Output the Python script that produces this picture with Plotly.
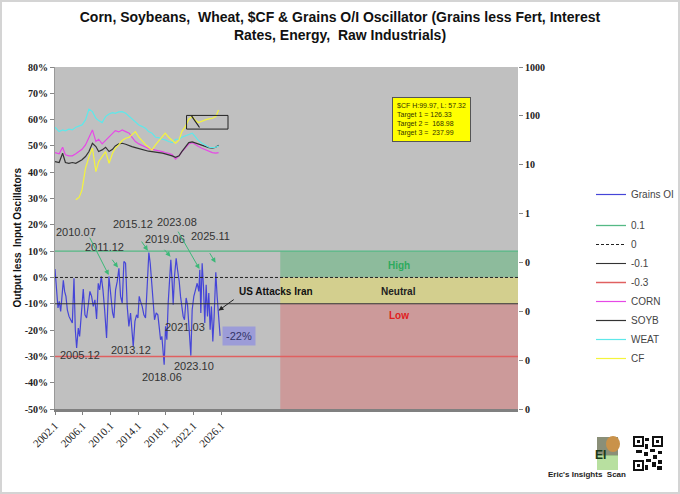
import plotly.graph_objects as go

# ---------------- data ----------------
osc_years = [2002.00, 2002.24, 2002.43, 2002.62, 2002.82, 2003.01, 2003.20, 2003.39, 2003.58, 2003.78,
             2004.02, 2004.26, 2004.50, 2004.74, 2004.93, 2005.12, 2005.36, 2005.55, 2005.79, 2006.08,
             2006.32, 2006.56, 2006.80, 2007.04, 2007.28, 2007.52, 2007.76, 2008.00, 2008.24, 2008.44,
             2008.68, 2008.92, 2009.16, 2009.44, 2009.78, 2010.02, 2010.31, 2010.50, 2010.74, 2010.98,
             2011.22, 2011.46, 2011.70, 2011.94, 2012.18, 2012.42, 2012.66, 2012.90, 2013.14, 2013.29,
             2013.53, 2013.77, 2013.96, 2014.15, 2014.34, 2014.58, 2014.82, 2015.06, 2015.30, 2015.54,
             2015.74, 2015.93, 2016.17, 2016.36, 2016.60, 2016.84, 2017.08, 2017.23, 2017.42, 2017.56,
             2017.75, 2017.95, 2018.14, 2018.33, 2018.52, 2018.71, 2018.91, 2019.05, 2019.24, 2019.48,
             2019.68, 2019.92, 2020.11, 2020.30, 2020.49, 2020.68, 2020.92, 2021.12, 2021.36, 2021.60,
             2021.79, 2022.03, 2022.27, 2022.51, 2022.75, 2022.89, 2023.04, 2023.23, 2023.42, 2023.61,
             2023.81, 2024.00, 2024.19, 2024.38, 2024.57, 2024.77, 2024.96, 2025.20, 2025.39, 2025.58,
             2025.73, 2025.82]
osc_vals = [3.2, -7.2, -11.6, -9.1, -12.9, -7.2, -1.1, -5.3, -7.2, -12.3,
            -14.8, -16.1, -17.3, -0.3, -19.9, -26.8, -19.2, -22.4, -13.5, -4.4,
            -14.2, -15.4, -10.4, -5.3, -7.2, -11.0, -8.5, -15.8, -2.2, -4.7,
            0.4, -4.7, -12.3, -23.0, 0.4, -7.2, -13.5, -15.4, -4.7, -1.5,
            3.5, -7.2, -9.7, 6.1, 5.4, -11.0, -18.6, -13.5, -21.1, -26.2,
            -16.7, -14.2, -15.4, -7.2, -9.1, -11.0, -14.2, -15.4, -3.4, 9.5,
            5.4, -1.5, -9.1, -16.1, -13.5, -14.2, -19.9, -23.7, -22.4, -26.2,
            -33.2, -18.6, -23.7, -9.7, 0.4, 6.7, -2.2, -10.4, 0.4, 7.3,
            2.9, -1.5, -7.2, -11.0, -14.8, -16.1, -7.8, -10.4, -21.1, -29.7,
            -12.3, -7.2, -4.7, -2.2, -5.3, 2.9, -13.5, 5.4, -3.4, -17.3,
            -2.8, -14.8, -5.9, -19.9, -11.0, -24.3, -14.8, 2.0, -7.2, -13.5,
            -20.5, -22.2]

top_years = [2002.0, 2002.6, 2003.1, 2003.5, 2004.0, 2004.5, 2005.0, 2005.5, 2005.9, 2006.4,
             2006.9, 2007.4, 2007.9, 2008.3, 2008.8, 2009.3, 2009.8, 2010.3, 2010.7, 2011.2,
             2011.7, 2012.2, 2012.7, 2013.1, 2013.6, 2014.1, 2014.6, 2015.1, 2015.5, 2016.0,
             2016.5, 2017.0, 2017.5, 2017.9, 2018.4, 2018.9, 2019.4, 2019.9, 2020.3, 2020.8,
             2021.3, 2021.8, 2022.3, 2022.7, 2023.2, 2023.7, 2024.2, 2024.7, 2025.2, 2025.6]
corn = [17.7, 16.7, 22.8, 15.9, 15.2, 15.2, 16.7, 18.6, 20.7, 25.4,
        34.8, 51.5, 29.8, 33.2, 26.7, 31.2, 36.5, 44.1, 49.9, 46.9,
        51.5, 47.6, 44.1, 36.5, 29.8, 26.7, 24.3, 22.8, 21.4, 20.7,
        20.1, 19.5, 18.6, 17.7, 17.2, 16.1, 13.0, 15.2, 18.6, 21.8,
        26.7, 28.4, 25.4, 23.5, 21.8, 20.1, 18.6, 17.7, 17.2, 17.7]
soyb = [11.6, 11.1, 17.2, 11.1, 10.7, 11.1, 10.7, 11.6, 12.6, 14.7,
        18.6, 27.5, 23.5, 18.6, 20.1, 22.8, 18.6, 20.7, 24.3, 26.7,
        27.5, 26.3, 24.3, 23.5, 22.4, 21.4, 20.1, 19.5, 18.9, 18.6,
        18.3, 18.0, 17.2, 16.7, 16.1, 15.2, 14.2, 15.2, 18.6, 22.8,
        28.4, 29.3, 27.5, 26.7, 25.0, 23.5, 22.4, 21.8, 22.8, 25.0]
weat = [58.4, 47.6, 51.5, 49.2, 53.2, 51.5, 58.4, 62.2, 65.2, 82.5,
        136.3, 122.2, 89.2, 80.0, 72.8, 96.5, 109.4, 116.6, 112.9, 120.3,
        122.2, 112.9, 96.5, 85.2, 72.8, 65.2, 60.3, 54.9, 47.6, 44.1,
        36.5, 35.9, 33.2, 32.2, 29.8, 28.4, 33.2, 33.2, 36.5, 38.9,
        42.7, 44.1, 36.5, 31.2, 27.5, 25.0, 22.8, 22.4, 22.8, 24.3]
cf = [None, None, None, None, None, None, 1.91, 2.17, 3.06, 8.48,
      14.5, 22.0, 7.25, 11.6, 14.7, 18.6, 10.7, 17.2, 21.8, 25.4,
      31.2, 34.8, 36.5, 40.7, 47.6, 36.5, 29.8, 25.4, 22.8, 20.1,
      25.4, 31.2, 36.5, 44.1, 36.5, 31.2, 27.5, 32.2, 47.6, 60.3,
      85.2, 96.5, 80.0, 72.8, 78.7, 82.5, 86.5, 89.2, 96.5, 132.1]

levels = [0.1, 0, -0.1, -0.3]
level_names = ["0.1", "0", "-0.1", "-0.3"]

x_ticks = [2002, 2006, 2010, 2014, 2018, 2022, 2026]
x_labels = ["2002.1", "2006.1", "2010.1", "2014.1", "2018.1", "2022.1", "2026.1"]
y_ticks = list(range(-50, 81, 10))
y_labels = [f"{v}%" for v in y_ticks]
y2_ticks = [1e-4, 1e-3, 1e-2, 1e-1, 1, 10, 100, 1000]
y2_labels = ["0", "0", "0", "0", "1", "10", "100", "1000"]

peak_labels = ["2010.07", "2011.12", "2015.12", "2019.06", "2023.08", "2025.11"]
peak_label_pos = [(2005.1, 17.3), (2009.1, 11.7), (2013.2, 20.3), (2017.9, 14.7), (2019.65, 21.1), (2024.4, 15.7)]
peak_arrows = [((2006.9, 15.7), (2009.75, 0.9)), ((2010.1, 7.3), (2011.08, 3.8)),
               ((2014.35, 14.2), (2015.4, 10.2)), ((2017.6, 11.1), (2018.67, 7.9)),
               ((2019.64, 18.0), (2022.85, 3.2)), ((2024.2, 9.8), (2025.16, 5.6))]
trough_labels = ["2005.12", "2013.12", "2018.06", "2021.03", "2023.10"]
trough_label_pos = [(2005.6, -29.5), (2013.0, -27.6), (2017.45, -37.8), (2020.8, -18.7), (2022.05, -33.7)]

X_MIN, X_MAX = 2002.0, 2068.8
ZONE_START = 2034.5

# ---------------- figure ----------------
fig = go.Figure()

SANS = "Liberation Sans"
SERIF = "Liberation Serif"

fig.add_trace(go.Scatter(x=osc_years, y=osc_vals, mode="lines", name="Grains OI",
                         line=dict(color="#4545d8", width=1.2), legendgroup="a"))

lvl_styles = [dict(color="#55b985", width=1.3), dict(color="#222222", width=1, dash="3px,2px"),
              dict(color="#333333", width=1.1), dict(color="#e06060", width=1.5)]
for v, nm, st in zip(levels, level_names, lvl_styles):
    fig.add_trace(go.Scatter(x=[X_MIN, X_MAX], y=[v * 100, v * 100], mode="lines", name=nm,
                             line=st, legendgroup="b"))

for nm, vals, col in [("CORN", corn, "#e648e6"), ("SOYB", soyb, "#333333"),
                      ("WEAT", weat, "#5ee8ea"), ("CF", cf, "#f4f43c")]:
    fig.add_trace(go.Scatter(x=top_years, y=vals, mode="lines", name=nm, yaxis="y2",
                             line=dict(color=col, width=1.2), legendgroup="b"))

# paper-coordinate helpers for decoration (plot area: x 55..518 px, y 67..409 px)
def px(x):
    return (x - 55) / 463.0

def py(y):
    return (409 - y) / 342.0

shapes = [
    dict(type="rect", xref="x", yref="y", x0=ZONE_START, x1=X_MAX, y0=0, y1=10,
         fillcolor="#8dbb9c", line=dict(width=0), layer="below"),
    dict(type="rect", xref="x", yref="y", x0=ZONE_START, x1=X_MAX, y0=-10, y1=0,
         fillcolor="#d3cf8e", line=dict(width=0), layer="below"),
    dict(type="rect", xref="x", yref="y", x0=ZONE_START, x1=X_MAX, y0=-50, y1=-10,
         fillcolor="#cc9a9a", line=dict(width=0), layer="below"),
    # box around CF high
    dict(type="rect", xref="x", yref="y", x0=2020.98, x1=2026.96, y0=56.4, y1=61.6,
         line=dict(color="#222222", width=1)),
    dict(type="line", xref="x", yref="y", x0=2021.7, x1=2022.85, y0=61.4, y1=57.0,
         line=dict(color="#222222", width=1.2)),
    # outer frame
    dict(type="rect", xref="paper", yref="paper", x0=px(1), x1=px(679), y0=py(493), y1=py(1),
         line=dict(color="#d4d4d4", width=2)),
    # logo picture
    dict(type="rect", xref="paper", yref="paper", x0=px(597), x1=px(618), y0=py(470), y1=py(437),
         fillcolor="#9bbf86", line=dict(width=0)),
    dict(type="rect", xref="paper", yref="paper", x0=px(597), x1=px(618), y0=py(455), y1=py(437),
         fillcolor="#8a8f78", line=dict(width=0)),
    dict(type="circle", xref="paper", yref="paper", x0=px(606), x1=px(620), y0=py(452), y1=py(436),
         fillcolor="#c9924a", line=dict(width=0)),
    dict(type="rect", xref="paper", yref="paper", x0=px(597), x1=px(618), y0=py(470), y1=py(456),
         fillcolor="#b8e0a0", line=dict(width=0)),
]
# QR-like block
for (a, b) in [(634, 437), (653, 437), (634, 461)]:
    shapes.append(dict(type="rect", xref="paper", yref="paper", x0=px(a), x1=px(a + 9), y0=py(b + 9), y1=py(b),
                       fillcolor="#ffffff", line=dict(color="#111111", width=2)))
    shapes.append(dict(type="rect", xref="paper", yref="paper", x0=px(a + 3), x1=px(a + 6), y0=py(b + 6), y1=py(b + 3),
                       fillcolor="#111111", line=dict(width=0)))
for (a, b, w, h) in [(645, 438, 4, 3), (645, 444, 3, 5), (650, 449, 5, 3), (636, 450, 6, 3),
                     (644, 452, 4, 4), (653, 455, 4, 4), (658, 451, 4, 3), (646, 459, 5, 3),
                     (652, 462, 4, 5), (658, 460, 4, 4), (645, 465, 3, 5), (657, 466, 5, 4)]:
    shapes.append(dict(type="rect", xref="paper", yref="paper", x0=px(a), x1=px(a + w), y0=py(b + h), y1=py(b),
                       fillcolor="#111111", line=dict(width=0)))

annotations = []
for t, (x, y) in zip(peak_labels, peak_label_pos):
    annotations.append(dict(x=x, y=y, xref="x", yref="y", text=t, showarrow=False,
                            font=dict(family=SANS, size=11, color="#333333")))
for (tail, head) in peak_arrows:
    annotations.append(dict(x=head[0], y=head[1], ax=tail[0], ay=tail[1], xref="x", yref="y",
                            axref="x", ayref="y", text="", showarrow=True, arrowhead=2,
                            arrowsize=1, arrowwidth=1, arrowcolor="#3cb878"))
for t, (x, y) in zip(trough_labels, trough_label_pos):
    annotations.append(dict(x=x, y=y, xref="x", yref="y", text=t, showarrow=False,
                            font=dict(family=SANS, size=11, color="#333333")))

annotations += [
    dict(x=2051.6, y=4.7, xref="x", yref="y", text="<b>High</b>", showarrow=False,
         font=dict(family=SANS, size=10, color="#2eaa5e")),
    dict(x=2051.6, y=-5.2, xref="x", yref="y", text="<b>Neutral</b>", showarrow=False,
         font=dict(family=SANS, size=10, color="#222222")),
    dict(x=2051.6, y=-14.3, xref="x", yref="y", text="<b>Low</b>", showarrow=False,
         font=dict(family=SANS, size=10, color="#e02020")),
    dict(x=2028.3, y=-5.2, xref="x", yref="y", text="<b>US Attacks Iran</b>", showarrow=False,
         xanchor="left", font=dict(family=SANS, size=10, color="#111111")),
    dict(x=2025.6, y=-12.6, ax=2028.0, ay=-8.0, xref="x", yref="y", axref="x", ayref="y",
         text="", showarrow=True, arrowhead=2, arrowsize=1, arrowwidth=1, arrowcolor="#222222"),
    dict(x=2028.5, y=-22.1, xref="x", yref="y", text="-22%", showarrow=False,
         bgcolor="#9c9cd8", borderpad=3, font=dict(family=SANS, size=11, color="#333366")),
    dict(x=px(470.5), y=py(96.5), xref="paper", yref="paper",
         text="$CF H:99.97, L: 57.32<br>Target 1 = 126.33<br>Target 2 =  168.98<br>Target 3 =  237.99",
         showarrow=False, align="left", bgcolor="#ffff00", bordercolor="#555555", borderwidth=1,
         borderpad=4, font=dict(family=SANS, size=7, color="#333300")),
    dict(x=px(9), y=py(238), xref="paper", yref="paper", text="<b>Output less  Input Oscillators</b>",
         textangle=-90, showarrow=False, font=dict(family=SANS, size=10, color="#111111")),
    dict(x=px(607.5), y=py(464), xref="paper", yref="paper", text="<b>EI</b>", showarrow=False,
         font=dict(family=SANS, size=12, color="#1a3a1a")),
    dict(x=px(628), y=py(481), xref="paper", yref="paper", text="<b>Eric's Insights  Scan</b>",
         showarrow=False, font=dict(family=SANS, size=8, color="#222222")),
]

fig.update_layout(
    width=680, height=494,
    margin=dict(l=55, r=162, t=67, b=85, autoexpand=False),
    paper_bgcolor="white",
    plot_bgcolor="#c0c0c0",
    title=dict(text="<b>Corn, Soybeans,  Wheat, $CF & Grains O/I Oscillator (Grains less Fert, Interest<br>Rates, Energy,  Raw Industrials)</b>",
               x=0.5, xanchor="center", y=1 - 22 / 494, yanchor="middle",
               font=dict(family=SANS, size=14, color="#111111")),
    xaxis=dict(range=[X_MIN, X_MAX], tickvals=x_ticks, ticktext=x_labels, tickangle=-45,
               showgrid=False, zeroline=False, showline=True, linecolor="#808080", linewidth=3,
               ticks="outside", ticklen=3, tickcolor="#808080",
               tickfont=dict(family=SERIF, size=11, color="#222222")),
    yaxis=dict(range=[-50, 80], tickvals=y_ticks, ticktext=y_labels, showgrid=False, zeroline=False,
               showline=True, linecolor="#999999", linewidth=1, ticks="outside", ticklen=4,
               tickcolor="#888888",
               tickfont=dict(family=SERIF, size=10, color="#222222", weight="bold")),
    yaxis2=dict(type="log", range=[-4, 3], overlaying="y", side="right", tickvals=y2_ticks,
                ticktext=y2_labels, showgrid=False, zeroline=False, showline=False,
                ticks="outside", ticklen=4, tickcolor="#888888",
                tickfont=dict(family=SERIF, size=10, color="#222222", weight="bold")),
    legend=dict(x=px(591), xanchor="left", y=py(180), yanchor="top", traceorder="grouped",
                tracegroupgap=12, bgcolor="rgba(0,0,0,0)", itemwidth=30,
                font=dict(family=SANS, size=10, color="#444444")),
    shapes=shapes,
    annotations=annotations,
)

fig.write_html("out.html", config={"displayModeBar": False},
               post_script="document.body.style.margin='0';")
